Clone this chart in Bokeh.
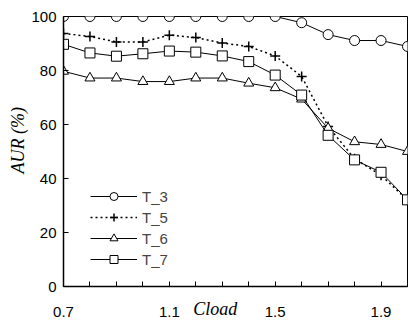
from bokeh.plotting import figure
from bokeh.models import Range1d, FixedTicker, Legend, LegendItem
from bokeh.embed import file_html
from bokeh.resources import INLINE

cload = [0.7, 0.8, 0.9, 1.0, 1.1, 1.2, 1.3, 1.4, 1.5, 1.6, 1.7, 1.8, 1.9, 2.0]
t3 = [100, 100, 100, 100, 100, 100, 100, 100, 100, 97.7, 93.3, 91.1, 91.1, 88.9]
t5 = [93.7, 92.6, 90.6, 90.6, 93.1, 92.2, 90.2, 88.9, 85.4, 77.8, 59.3, 47.3, 41.2, 32.0]
t6 = [79.7, 77.2, 77.2, 75.9, 75.9, 77.2, 77.2, 75.3, 73.6, 69.4, 58.6, 53.6, 52.6, 50.0]
t7 = [89.7, 86.5, 85.3, 86.2, 87.2, 86.8, 85.4, 83.3, 78.3, 70.9, 56.0, 46.9, 42.3, 32.1]
x_labels = {0.7: "0.7", 1.1: "1.1", 1.5: "1.5", 1.9: "1.9"}
y_ticks = [0, 20, 40, 60, 80, 100]

NB = "\u00a0"

p = figure(width=408, height=322, output_backend="svg", toolbar_location=None,
           x_range=Range1d(cload[0], cload[-1]), y_range=Range1d(y_ticks[0], y_ticks[-1]),
           min_border_left=63, min_border_right=1, min_border_top=16, min_border_bottom=36)
p.xgrid.visible = False
p.ygrid.visible = False
p.outline_line_color = "black"
p.outline_line_width = 1
p.background_fill_color = "white"
p.border_fill_color = "white"

p.xaxis.ticker = FixedTicker(ticks=cload)
p.xaxis.major_label_overrides = {t: x_labels.get(t, "") for t in cload}
p.yaxis.ticker = FixedTicker(ticks=y_ticks)
for ax in (p.xaxis, p.yaxis):
    ax.major_tick_in = 5
    ax.major_tick_out = 0
    ax.minor_tick_line_color = None
    ax.axis_line_width = 1.5
    ax.axis_line_color = "black"
    ax.major_tick_line_color = "black"
    ax.major_label_text_font = "Liberation Sans"
    ax.major_label_text_font_style = "normal"
    ax.major_label_text_font_size = "15px"
    ax.major_label_text_color = "black"
    ax.axis_label_text_font = "Liberation Serif"
    ax.axis_label_text_font_style = "italic"
    ax.axis_label_text_font_size = "18px"
    ax.axis_label_text_color = "black"
p.xaxis.major_label_standoff = 20
p.yaxis.major_label_standoff = 7

p.xaxis.axis_label = "Cload" + NB * 9
p.xaxis.axis_label_standoff = -21
p.yaxis.axis_label = NB * 5 + "AUR (%)"
p.yaxis.axis_label_standoff = 0

common = dict(line_color="black", fill_color="white", size=10)
r3l = p.line(cload, t3, line_color="black", line_width=1)
r3m = p.scatter(cload, t3, marker="circle", line_width=1, **common)
r5l = p.line(cload, t5, line_color="black", line_width=1.5, line_dash="2 3")
r5m = p.scatter(cload, t5, marker="cross", line_width=1.5, **common)
r6l = p.line(cload, t6, line_color="black", line_width=1)
r6m = p.scatter(cload, t6, marker="triangle", line_width=1, **common)
r7l = p.line(cload, t7, line_color="black", line_width=1)
r7m = p.scatter(cload, t7, marker="square", line_width=1, **common)

legend = Legend(items=[
    LegendItem(label="T_3", renderers=[r3l, r3m]),
    LegendItem(label="T_5", renderers=[r5l, r5m]),
    LegendItem(label="T_6", renderers=[r6l, r6m]),
    LegendItem(label="T_7", renderers=[r7l, r7m]),
], location=(27, 17), glyph_width=47, glyph_height=20, label_height=20,
    label_standoff=5, spacing=1, padding=0, margin=0,
    border_line_color=None, background_fill_alpha=0,
    label_text_font="Liberation Sans", label_text_font_size="15px")
p.add_layout(legend)

open("out.html", "w").write(file_html(p, INLINE))
